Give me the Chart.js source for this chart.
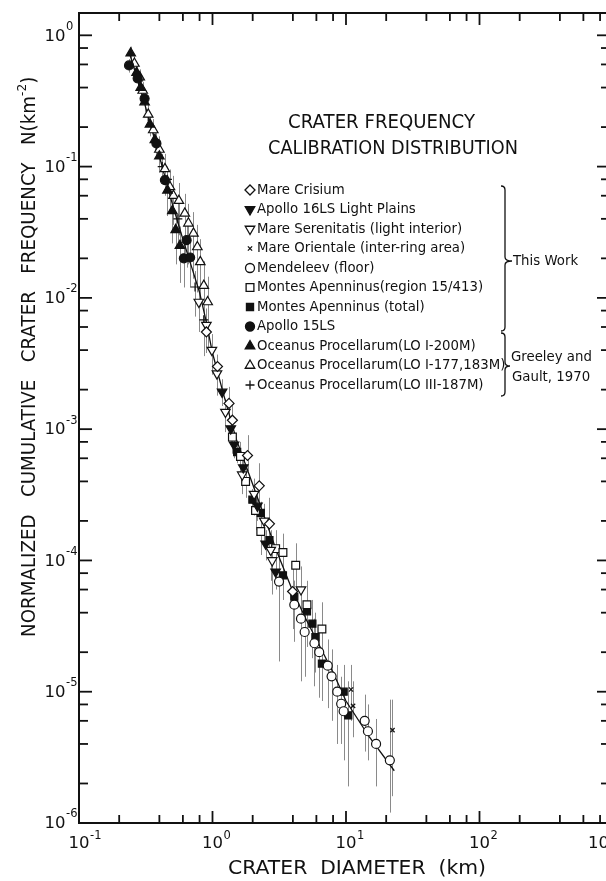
<!DOCTYPE html>
<html>
<head>
<meta charset="utf-8">
<title>Crater frequency calibration distribution</title>
<script src="https://cdn.jsdelivr.net/npm/chart.js@4.4.1/dist/chart.umd.min.js"></script>
<style>
  html, body { margin: 0; padding: 0; background: #fff; overflow: hidden; }
  #wrap { width: 625px; height: 881px; }
</style>
</head>
<body>
<div id="wrap"><canvas id="myChart" width="625" height="881"></canvas></div>
<script>
// crater diameter D (km) and cumulative frequency N (km^-2), with error bar ends
const crisiumD  = [0.90, 1.09, 1.33, 1.41, 1.83, 2.24, 2.67, 3.98];
const crisiumN  = [0.0055, 0.0030, 0.00157, 0.00117, 0.00063, 0.00037, 0.00019, 0.000058];
const crisiumLo = [0.0040, 0.0023, 0.0012, 0.0009, 0.00048, 0.00027, 0.00013, 0.00003];
const crisiumHi = [0.0068, 0.0037, 0.0021, 0.0016, 0.0009, 0.00055, 0.0003, 0.00009];

const apollo16D  = [1.18, 1.37, 1.45, 1.70, 2.17, 2.50, 2.97];
const apollo16N  = [0.00192, 0.00101, 0.00076, 0.00051, 0.00026, 0.000134, 0.000082];
const apollo16Lo = [0.0015, 0.0008, 0.0006, 0.0004, 0.0002, 0.0001, 0.00006];
const apollo16Hi = [0.0024, 0.00125, 0.00095, 0.00064, 0.00033, 0.00017, 0.000105];

const serenD  = [0.79, 0.90, 0.99, 1.08, 1.25, 1.67, 2.05, 2.44, 2.73, 2.80, 4.6];
const serenN  = [0.0093, 0.0062, 0.0040, 0.00265, 0.00135, 0.00045, 0.00032, 0.00020, 0.00012, 0.00010, 0.000060];
const serenLo = [0.0055, 0.0038, 0.0026, 0.0018, 0.00095, 0.00032, 0.00022, 0.00013, 0.00007, 0.000055, 0.000025];
const serenHi = [0.012, 0.0083, 0.0053, 0.0034, 0.0017, 0.00058, 0.00042, 0.00027, 0.00017, 0.00014, 0.00009];

const orientD  = [10.9, 11.3, 22.3];
const orientN  = [0.0000104, 0.0000078, 0.0000051];
const orientLo = [0.000006, 0.0000045, 0.0000016];
const orientHi = [0.000016, 0.000012, 0.0000087];

const mendelD  = [3.15, 4.1, 4.6, 4.9, 5.8, 6.3, 7.3, 7.8, 8.6, 9.2, 9.6, 13.8, 14.6, 16.8, 21.3];
const mendelN  = [0.000069, 0.000046, 0.000036, 0.0000285, 0.0000234, 0.0000200, 0.0000158, 0.0000131, 0.0000100, 0.0000081, 0.0000071, 0.0000060, 0.0000050, 0.0000040, 0.0000030];
const mendelLo = [0.000017, 0.000024, 0.000012, 0.000013, 0.000011, 0.000009, 0.0000075, 0.000006, 0.000004, 0.000004, 0.000003, 0.0000035, 0.000003, 0.0000019, 0.0000012];
const mendelHi = [0.000124, 0.00007, 0.00006, 0.000045, 0.000036, 0.000031, 0.000025, 0.000021, 0.000016, 0.000013, 0.000011, 0.0000095, 0.000008, 0.0000062, 0.0000087];

const apenRegD  = [1.41, 1.62, 1.77, 2.10, 2.30, 2.97, 3.37, 4.2, 5.1, 6.6];
const apenRegN  = [0.00087, 0.00062, 0.00040, 0.00024, 0.000166, 0.000123, 0.000115, 0.000092, 0.000046, 0.000030];
const apenRegLo = [0.00065, 0.00046, 0.0003, 0.00017, 0.00011, 0.00008, 0.00007, 0.00005, 0.000022, 0.000013];
const apenRegHi = [0.0011, 0.0008, 0.00052, 0.00032, 0.00023, 0.00017, 0.00016, 0.000135, 0.00007, 0.000048];

const apenTotD  = [1.53, 1.99, 2.30, 2.67, 3.37, 4.1, 5.1, 5.6, 5.9, 6.6, 9.6, 10.4];
const apenTotN  = [0.00067, 0.00029, 0.00023, 0.000143, 0.000077, 0.000053, 0.000041, 0.000033, 0.000026, 0.0000164, 0.0000100, 0.0000066];
const apenTotLo = [0.00055, 0.00023, 0.00018, 0.00011, 0.00005, 0.000033, 0.000022, 0.000018, 0.000014, 0.0000085, 0.000004, 0.0000019];
const apenTotHi = [0.0008, 0.00035, 0.00028, 0.00018, 0.0001, 0.00007, 0.000058, 0.00005, 0.00004, 0.000026, 0.000016, 0.000012];

const apollo15D  = [0.237, 0.275, 0.31, 0.38, 0.44, 0.61, 0.64, 0.68];
const apollo15N  = [0.59, 0.47, 0.33, 0.15, 0.079, 0.020, 0.0275, 0.0203];
const apollo15Lo = [0.52, 0.41, 0.28, 0.12, 0.06, 0.012, 0.017, 0.012];
const apollo15Hi = [0.66, 0.53, 0.38, 0.18, 0.098, 0.027, 0.036, 0.028];

const lo200D  = [0.244, 0.27, 0.29, 0.31, 0.34, 0.37, 0.40, 0.46, 0.50, 0.53, 0.57];
const lo200N  = [0.73, 0.52, 0.40, 0.31, 0.21, 0.16, 0.12, 0.066, 0.046, 0.033, 0.025];
const lo200Lo = [0.64, 0.45, 0.34, 0.26, 0.17, 0.13, 0.09, 0.042, 0.026, 0.018, 0.013];
const lo200Hi = [0.82, 0.59, 0.46, 0.36, 0.25, 0.19, 0.15, 0.085, 0.060, 0.045, 0.035];

const lo177D  = [0.26, 0.285, 0.30, 0.33, 0.36, 0.40, 0.44, 0.48, 0.51, 0.56, 0.62, 0.66, 0.72, 0.77, 0.81, 0.86, 0.92];
const lo177N  = [0.61, 0.48, 0.38, 0.25, 0.19, 0.135, 0.096, 0.070, 0.060, 0.055, 0.044, 0.037, 0.031, 0.0244, 0.0188, 0.0124, 0.0093];
const lo177Lo = [0.53, 0.41, 0.32, 0.20, 0.15, 0.10, 0.065, 0.045, 0.036, 0.030, 0.022, 0.018, 0.014, 0.011, 0.0085, 0.0058, 0.0042];
const lo177Hi = [0.69, 0.55, 0.44, 0.30, 0.23, 0.17, 0.125, 0.095, 0.085, 0.075, 0.062, 0.052, 0.045, 0.036, 0.028, 0.019, 0.0145];

const lo187D  = [0.28, 0.33, 0.42, 0.46, 0.55, 0.74, 0.86];
const lo187N  = [0.45, 0.24, 0.10, 0.08, 0.04, 0.0121, 0.0068];
const lo187Lo = [0.39, 0.20, 0.075, 0.055, 0.025, 0.0072, 0.0036];
const lo187Hi = [0.51, 0.28, 0.125, 0.10, 0.052, 0.016, 0.0095];

// calibration curve
const calibD = [0.24, 0.3, 0.4, 0.5, 0.6, 0.7, 0.8, 0.9, 1.0, 1.2, 1.5, 2, 3, 4, 5, 6, 8, 10, 15, 23];
const calibN = [0.72, 0.34, 0.12, 0.052, 0.028, 0.017, 0.011, 0.0065, 0.0038, 0.0019, 0.00085, 0.00038, 0.00012, 0.000058, 0.000036, 0.000025, 0.000014, 0.0000085, 0.0000045, 0.0000025];

// axes
const xTickExponents = ['-1', '0', '1', '2', '3'];
const yTickExponents = ['-6', '-5', '-4', '-3', '-2', '-1', '0'];
const minorSteps = [2, 4, 6, 8];

const ink = '#111';

const series = [
  { label: 'Mare Crisium', D: crisiumD, N: crisiumN, lo: crisiumLo, hi: crisiumHi, style: 'rectRot', rot: 0, filled: false, r: 5 },
  { label: 'Apollo 16LS Light Plains', D: apollo16D, N: apollo16N, lo: apollo16Lo, hi: apollo16Hi, style: 'triangle', rot: 180, filled: true, r: 5.5 },
  { label: 'Mare Serenitatis (light interior)', D: serenD, N: serenN, lo: serenLo, hi: serenHi, style: 'triangle', rot: 180, filled: false, r: 5.5 },
  { label: 'Mare Orientale (inter-ring area)', D: orientD, N: orientN, lo: orientLo, hi: orientHi, style: 'crossRot', rot: 0, filled: false, r: 3 },
  { label: 'Mendeleev (floor)', D: mendelD, N: mendelN, lo: mendelLo, hi: mendelHi, style: 'circle', rot: 0, filled: false, r: 4.5 },
  { label: 'Montes Apenninus(region 15/413)', D: apenRegD, N: apenRegN, lo: apenRegLo, hi: apenRegHi, style: 'rect', rot: 0, filled: false, r: 5.5 },
  { label: 'Montes Apenninus (total)', D: apenTotD, N: apenTotN, lo: apenTotLo, hi: apenTotHi, style: 'rect', rot: 0, filled: true, r: 5 },
  { label: 'Apollo 15LS', D: apollo15D, N: apollo15N, lo: apollo15Lo, hi: apollo15Hi, style: 'circle', rot: 0, filled: true, r: 4.5 },
  { label: 'Oceanus Procellarum(LO I-200M)', D: lo200D, N: lo200N, lo: lo200Lo, hi: lo200Hi, style: 'triangle', rot: 0, filled: true, r: 5.5 },
  { label: 'Oceanus Procellarum(LO I-177,183M)', D: lo177D, N: lo177N, lo: lo177Lo, hi: lo177Hi, style: 'triangle', rot: 0, filled: false, r: 5.5 },
  { label: 'Oceanus Procellarum(LO III-187M)', D: lo187D, N: lo187N, lo: lo187Lo, hi: lo187Hi, style: 'cross', rot: 0, filled: false, r: 4.5 }
];

const datasets = series.map(s => ({
  label: s.label,
  data: s.D.map((d, i) => ({ x: d, y: s.N[i] })),
  errLo: s.lo,
  errHi: s.hi,
  showLine: false,
  pointStyle: s.style,
  rotation: s.rot,
  pointRadius: s.r,
  pointBackgroundColor: s.filled ? ink : '#fff',
  pointBorderColor: ink,
  pointBorderWidth: 1.2
}));

datasets.push({
  label: 'calibration',
  data: calibD.map((d, i) => ({ x: d, y: calibN[i] })),
  showLine: true,
  borderColor: ink,
  borderWidth: 1.3,
  pointRadius: 0,
  fill: false
});

// vertical error bars under the markers
const errorBars = {
  id: 'errorBars',
  beforeDatasetsDraw(chart) {
    const ctx = chart.ctx, xs = chart.scales.x, ys = chart.scales.y;
    ctx.save();
    ctx.strokeStyle = '#8a8a8a';
    ctx.lineWidth = 1;
    chart.data.datasets.forEach(ds => {
      if (!ds.errLo) return;
      ds.data.forEach((p, i) => {
        const x = Math.round(xs.getPixelForValue(p.x)) + 0.5;
        ctx.beginPath();
        ctx.moveTo(x, ys.getPixelForValue(ds.errLo[i]));
        ctx.lineTo(x, ys.getPixelForValue(ds.errHi[i]));
        ctx.stroke();
      });
    });
    ctx.restore();
  }
};

function putText(ctx, s, x, y, font, align, width, sx) {
  ctx.save();
  ctx.font = font;
  ctx.fillStyle = ink;
  ctx.textBaseline = 'middle';
  ctx.textAlign = align || 'left';
  const w = ctx.measureText(s).width;
  ctx.translate(x, y);
  if (width) ctx.scale(width / w, 1);
  else if (sx) ctx.scale(sx, 1);
  ctx.fillText(s, 0, 0);
  ctx.restore();
  return w;
}

function brace(ctx, x, y1, ym, y2, tip) {
  ctx.beginPath();
  ctx.moveTo(x - 4, y1);
  ctx.quadraticCurveTo(x, y1, x, y1 + 4);
  ctx.lineTo(x, ym - 4);
  ctx.quadraticCurveTo(x, ym, tip, ym);
  ctx.quadraticCurveTo(x, ym, x, ym + 4);
  ctx.lineTo(x, y2 - 4);
  ctx.quadraticCurveTo(x, y2, x - 4, y2);
  ctx.stroke();
}

// frame, inward ticks, decade labels, titles and legend
const decorations = {
  id: 'decorations',
  afterDraw(chart) {
    const ctx = chart.ctx, a = chart.chartArea;
    const xs = chart.scales.x, ys = chart.scales.y;
    ctx.save();
    ctx.strokeStyle = ink;
    ctx.lineWidth = 2;
    ctx.beginPath();
    ctx.moveTo(a.right, a.top);
    ctx.lineTo(a.left, a.top);
    ctx.lineTo(a.left, a.bottom);
    ctx.lineTo(a.right, a.bottom);
    ctx.stroke();

    ctx.lineWidth = 1.8;
    const tick = (x1, y1, x2, y2) => { ctx.beginPath(); ctx.moveTo(x1, y1); ctx.lineTo(x2, y2); ctx.stroke(); };

    xTickExponents.forEach(e => {
      const base = Math.pow(10, +e);
      const px = xs.getPixelForValue(base);
      tick(px, a.bottom, px, a.bottom - 12);
      tick(px, a.top, px, a.top + 12);
      minorSteps.forEach(m => {
        const v = m * base;
        if (v > xs.max) return;
        const q = xs.getPixelForValue(v);
        tick(q, a.bottom, q, a.bottom - 8);
        tick(q, a.top, q, a.top + 8);
      });
      // the last label is pulled in to stay on the page, as in the original
      const lx = Math.min(px, 598.5);
      const w = putText(ctx, '10', lx, 843.5, '16.5px "DejaVu Sans"', 'center');
      putText(ctx, e, lx + w / 2 + 0.5, 836, '11.5px "DejaVu Sans"', 'left');
    });

    yTickExponents.forEach(e => {
      const base = Math.pow(10, +e);
      const py = ys.getPixelForValue(base);
      tick(a.left, py, a.left + 13, py);
      tick(a.right, py, a.right - 16, py);
      minorSteps.forEach(m => {
        const v = m * base;
        if (v > ys.max) return;
        const q = ys.getPixelForValue(v);
        tick(a.left, q, a.left + 9, q);
        tick(a.right, q, a.right - 12, q);
      });
      putText(ctx, '10', 65.5, py + 1, '16.5px "DejaVu Sans"', 'right');
      putText(ctx, e, 66, py - 8.5, '11.5px "DejaVu Sans"', 'left');
    });

    // axis titles
    putText(ctx, 'CRATER  DIAMETER  (km)', 228, 869, '20px "DejaVu Sans"', 'left', 258);

    ctx.save();
    ctx.translate(30, 637);
    ctx.rotate(-Math.PI / 2);
    ctx.font = '19.5px "DejaVu Sans"';
    ctx.fillStyle = ink;
    ctx.textBaseline = 'middle';
    const yMain = 'NORMALIZED   CUMULATIVE   CRATER   FREQUENCY   N(km';
    const sx = 541 / ctx.measureText(yMain).width;
    ctx.scale(sx, 1);
    ctx.fillText(yMain, 0, 0);
    let off = ctx.measureText(yMain).width;
    ctx.font = '13px "DejaVu Sans"';
    ctx.fillText('-2', off, -7);
    off += ctx.measureText('-2').width;
    ctx.font = '19.5px "DejaVu Sans"';
    ctx.fillText(')', off, 0);
    ctx.restore();

    // chart title
    putText(ctx, 'CRATER FREQUENCY', 381.5, 123, '20px "DejaVu Sans"', 'center', 187);
    putText(ctx, 'CALIBRATION DISTRIBUTION', 393, 149, '20px "DejaVu Sans"', 'center', 250);

    // legend
    const H = Chart.helpers;
    series.forEach((s, i) => {
      const y = 190 + i * 19.5;
      ctx.save();
      ctx.fillStyle = s.filled ? ink : '#fff';
      ctx.strokeStyle = ink;
      ctx.lineWidth = 1.3;
      H.drawPoint(ctx, { pointStyle: s.style, rotation: s.rot, radius: s.r, borderWidth: 1.3 }, 250, y);
      ctx.restore();
      putText(ctx, s.label, 257, y, '14px "DejaVu Sans"', 'left', 0, 0.95);
    });

    ctx.lineWidth = 1.3;
    brace(ctx, 505, 186, 261, 331, 512);
    brace(ctx, 505, 333, 366, 396, 510);
    putText(ctx, 'This Work', 513, 261, '14px "DejaVu Sans"', 'left', 0, 0.95);
    putText(ctx, 'Greeley and', 511, 357, '14px "DejaVu Sans"', 'left', 0, 0.95);
    putText(ctx, 'Gault, 1970', 512, 377, '14px "DejaVu Sans"', 'left', 0, 0.95);
    ctx.restore();
  }
};

const ctx = document.getElementById('myChart').getContext('2d');
const chart = new Chart(ctx, {
  type: 'scatter',
  data: { datasets: datasets },
  options: {
    responsive: false,
    animation: false,
    events: [],
    layout: { padding: { left: 79, top: 13, right: 12, bottom: 58 } },
    scales: {
      x: { type: 'logarithmic', min: 0.1, max: 1000, display: false },
      y: { type: 'logarithmic', min: 1e-6, max: 1.479, display: false }
    },
    plugins: {
      legend: { display: false },
      tooltip: { enabled: false }
    }
  },
  plugins: [errorBars, decorations]
});
</script>
</body>
</html>
